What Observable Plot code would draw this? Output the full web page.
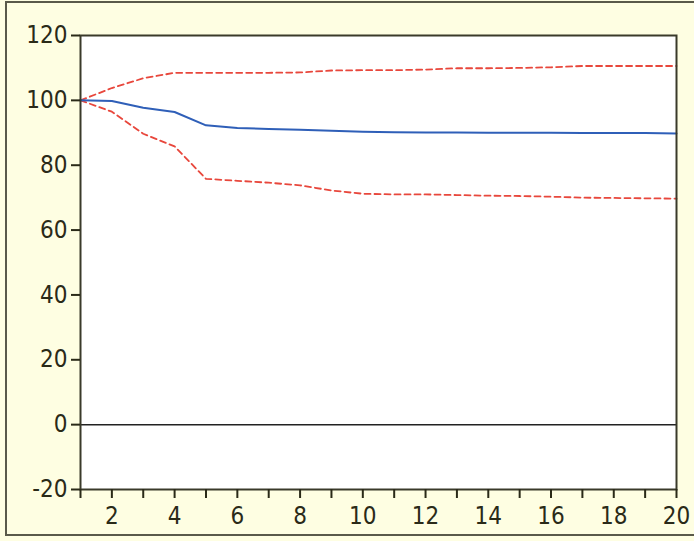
<!DOCTYPE html>
<html>
<head>
<meta charset="utf-8">
<script src="https://cdn.jsdelivr.net/npm/d3@7"></script>
<script src="https://cdn.jsdelivr.net/npm/@observablehq/plot@0.6"></script>
<style>
  html, body { margin: 0; padding: 0; background: #fefee2; }
  #wrap { position: relative; width: 694px; height: 541px; background: #fefee2; overflow: hidden; }
  #border { position: absolute; left: 5px; top: 1px; width: 700px; height: 535px; border: 2px solid #5a5a4a; box-sizing: border-box; }
  #chart { position: absolute; left: 0; top: 0; }
</style>
</head>
<body>
<div id="wrap"><div id="border"></div><div id="chart"></div></div>
<script>
const periods = d3.range(1, 21);
const response = [100, 99.8, 97.7, 96.4, 92.3, 91.5, 91.2, 90.9, 90.6, 90.3, 90.2, 90.1, 90.1, 90.0, 90.0, 90.0, 89.9, 89.9, 89.9, 89.8];
const upperBand = [100, 103.8, 106.8, 108.5, 108.5, 108.5, 108.5, 108.6, 109.2, 109.3, 109.3, 109.5, 109.9, 109.9, 110.0, 110.2, 110.6, 110.6, 110.6, 110.6];
const lowerBand = [100, 96.5, 89.7, 85.8, 75.8, 75.2, 74.6, 73.8, 72.2, 71.2, 71.0, 71.0, 70.8, 70.6, 70.5, 70.3, 70.0, 69.9, 69.8, 69.7];
const yTicks = [-20, 0, 20, 40, 60, 80, 100, 120];
const xLabelTicks = [2, 4, 6, 8, 10, 12, 14, 16, 18, 20];

const rows = (vals) => periods.map((p, i) => ({period: p, value: vals[i]}));

const chart = Plot.plot({
  width: 694,
  height: 541,
  marginLeft: 80,
  marginRight: 18,
  marginTop: 35,
  marginBottom: 52,
  x: {domain: [1, 20]},
  y: {domain: [-20, 120]},
  style: {
    background: "transparent",
    fontFamily: "'Liberation Sans Narrow', 'DejaVu Sans Condensed', 'Liberation Sans', sans-serif",
    fontSize: "24px",
    color: "#2a2a18"
  },
  marks: [
    Plot.frame({fill: "white", stroke: "none"}),
    Plot.ruleY([0], {stroke: "#222", strokeWidth: 1.5}),
    Plot.line(rows(upperBand), {x: "period", y: "value", stroke: "#e8473c", strokeWidth: 1.8, strokeDasharray: "6,4"}),
    Plot.line(rows(lowerBand), {x: "period", y: "value", stroke: "#e8473c", strokeWidth: 1.8, strokeDasharray: "6,4"}),
    Plot.line(rows(response), {x: "period", y: "value", stroke: "#2f5fb8", strokeWidth: 2}),
    Plot.frame({stroke: "#3a3a2a", strokeWidth: 2}),
    Plot.axisY({ticks: yTicks, tickSize: 9, tickPadding: 4, tickFormat: d => String(d), stroke: "#2a2a18", strokeWidth: 2, label: null}),
    Plot.axisX({ticks: periods, tickSize: 9, tickPadding: 8, tickFormat: d => xLabelTicks.includes(d) ? String(d) : "", stroke: "#2a2a18", strokeWidth: 2, label: null})
  ]
});
document.getElementById("chart").appendChild(chart);
</script>
</body>
</html>
